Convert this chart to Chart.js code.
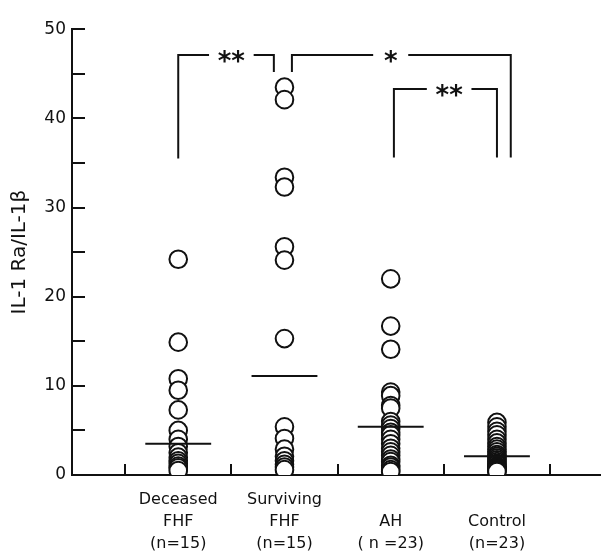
<!DOCTYPE html>
<html>
<head>
<meta charset="utf-8">
<script src="https://cdn.jsdelivr.net/npm/chart.js@4"></script>
<style>
  html, body { margin: 0; padding: 0; background: #fff; }
  #wrap { width: 602px; height: 555px; }
</style>
</head>
<body>
<div id="wrap"><canvas id="chart" width="602" height="555"></canvas></div>
<script>
// groups along the x axis
const groupLabels = [
    ['Deceased', 'FHF', '(n=15)'],
    ['Surviving', 'FHF', '(n=15)'],
    ['', 'AH', '( n =23)'],
    ['', 'Control', '(n=23)']
];

// IL-1 Ra / IL-1 beta ratio per patient
const deceasedFHF = [24.2, 14.9, 10.8, 9.5, 7.3, 5.0, 4.0, 3.2, 2.5, 2.0, 1.6, 1.3, 1.0, 0.8, 0.5];
const survivingFHF = [43.5, 42.1, 33.4, 32.3, 25.6, 24.1, 15.3, 5.4, 4.1, 2.9, 2.1, 1.6, 1.2, 0.9, 0.6];
const ahValues = [22.0, 16.7, 14.1, 9.3, 8.9, 7.8, 7.5, 6.0, 5.6, 5.2, 4.8, 4.5, 4.0, 3.5, 3.0, 2.6, 2.2, 1.8, 1.5, 1.1, 0.9, 0.6, 0.4];
const controlValues = [5.9, 5.4, 4.9, 4.5, 4.0, 3.6, 3.2, 2.9, 2.6, 2.3, 2.1, 1.9, 1.7, 1.5, 1.3, 1.2, 1.0, 0.9, 0.8, 0.7, 0.6, 0.5, 0.4];

// median bars
const medians = [3.5, 11.1, 5.4, 2.1];

// significance brackets (x in group units, y in ratio units)
const brackets = [
    { from: 1.0, to: 1.9, top: 47.1, leftEnd: 35.5, rightEnd: 45.2, label: '**', at: 1.5 },
    { from: 2.07, to: 4.13, top: 47.1, leftEnd: 45.2, rightEnd: 35.6, label: '*', at: 3.0 },
    { from: 3.03, to: 4.0, top: 43.3, leftEnd: 35.6, rightEnd: 35.6, label: '**', at: 3.55 }
];

const yTicks = [0, 5, 10, 15, 20, 25, 30, 35, 40, 45, 50];
const xTickMarks = [0.5, 1.5, 2.5, 3.5, 4.5];

const allGroups = [deceasedFHF, survivingFHF, ahValues, controlValues];
const ink = '#111';
const FONT = "'DejaVu Sans', sans-serif";
const X_MAX = 4.97;

const pointSets = allGroups.map((vals, i) => ({
    type: 'scatter',
    data: vals.map(v => ({ x: i + 1, y: v })),
    pointStyle: 'circle',
    pointRadius: 8.8,
    pointBorderWidth: 2,
    pointBorderColor: ink,
    pointBackgroundColor: '#fff',
    order: 2
}));

const medianSets = medians.map((m, i) => ({
    type: 'scatter',
    showLine: true,
    data: [{ x: i + 0.69, y: m }, { x: i + 1.31, y: m }],
    borderColor: ink,
    borderWidth: 2,
    pointRadius: 0,
    order: 1
}));

const bracketSets = brackets.map(b => {
    const gap = 0.12 + 0.045 * b.label.length;
    return {
        type: 'scatter',
        showLine: true,
        spanGaps: false,
        data: [
            { x: b.from, y: b.leftEnd }, { x: b.from, y: b.top }, { x: b.at - gap, y: b.top },
            { x: b.at, y: null },
            { x: b.at + gap, y: b.top }, { x: b.to, y: b.top }, { x: b.to, y: b.rightEnd }
        ],
        borderColor: ink,
        borderWidth: 2,
        pointRadius: 0,
        order: 0
    };
});

// asterisks on the brackets
const starLabels = {
    id: 'starLabels',
    afterDatasetsDraw(chart) {
        const { ctx, scales } = chart;
        ctx.save();
        ctx.fillStyle = ink;
        ctx.font = 'bold 26px ' + FONT;
        ctx.textAlign = 'center';
        ctx.textBaseline = 'middle';
        brackets.forEach(b => {
            const px = scales.x.getPixelForValue(b.at);
            const py = scales.y.getPixelForValue(b.top);
            ctx.fillText(b.label, px, py + 8);
        });
        ctx.restore();
    }
};

new Chart(document.getElementById('chart').getContext('2d'), {
    data: { datasets: [...pointSets, ...medianSets, ...bracketSets] },
    options: {
        responsive: false,
        animation: false,
        layout: { autoPadding: false, padding: { top: 15, right: 2, left: 0, bottom: 0 } },
        plugins: { legend: { display: false }, tooltip: { enabled: false } },
        scales: {
            x: {
                type: 'linear',
                position: 'bottom',
                min: 0,
                max: X_MAX,
                afterBuildTicks: s => { s.ticks = xTickMarks.map(v => ({ value: v })); },
                afterFit: s => { s.height = 0; s.paddingLeft = 0; s.paddingRight = 0; },
                ticks: { display: false },
                grid: { drawOnChartArea: false, drawTicks: true, tickLength: -11, color: ink, lineWidth: 2 },
                border: { display: true, color: ink, width: 2 }
            },
            xLabels: {
                type: 'linear',
                position: 'bottom',
                min: 0,
                max: X_MAX,
                afterBuildTicks: s => { s.ticks = groupLabels.map((l, i) => ({ value: i + 1 })); },
                afterFit: s => { s.height = 80; s.paddingLeft = 0; s.paddingRight = 0; },
                ticks: {
                    color: ink,
                    padding: 14,
                    font: { family: FONT, size: 16, lineHeight: 1.38 },
                    callback: (v) => groupLabels[v - 1] || ''
                },
                grid: { display: true, drawOnChartArea: false, drawTicks: false },
                border: { display: false }
            },
            y: {
                min: 0,
                max: 50,
                afterBuildTicks: s => { s.ticks = yTicks.map(v => ({ value: v })); },
                afterFit: s => { s.width = 72; },
                ticks: {
                    color: ink,
                    padding: 19,
                    font: { family: FONT, size: 17 },
                    callback: v => (v % 10 === 0 ? v : '')
                },
                grid: { drawOnChartArea: false, drawTicks: true, tickLength: -13, color: ink, lineWidth: 2 },
                border: { display: true, color: ink, width: 2 },
                title: {
                    display: true,
                    text: 'IL-1 Ra/IL-1\u03B2',
                    color: ink,
                    font: { family: FONT, size: 20 },
                    padding: { top: 8, bottom: 0 }
                }
            }
        }
    },
    plugins: [starLabels]
});
</script>
</body>
</html>
